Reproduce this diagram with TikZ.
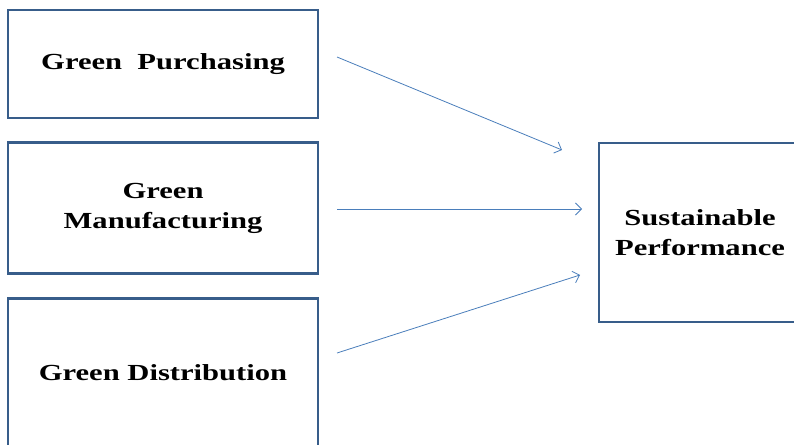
\documentclass[tikz,border=0pt]{standalone}
\usepackage{fontspec}
\setmainfont{Liberation Serif}[FakeStretch=1.33]
\usetikzlibrary{arrows.meta}
\usetikzlibrary{positioning}

\begin{document}
\begin{tikzpicture}[x=1pt,y=1pt]
		    \definecolor{boxline}{RGB}{56,93,138}
		    \definecolor{arrowcol}{RGB}{74,126,187}
		    \tikzset{gbox/.style={draw=boxline,line width=2.8pt,align=center,inner sep=0pt,
		        font=\fontsize{23}{30.5}\selectfont\bfseries},
		      link/.style={draw=arrowcol,line width=0.8pt,-{Straight Barb[length=6pt,width=12pt]}}}
		    \useasboundingbox (0,0) rectangle (794,444);
		    \clip (0,0) rectangle (794,444);
		    \node(purch) [gbox,minimum width=310pt,minimum height=108pt] at (163,380) {Green\ \ Purchasing};
		    \node(manuf) [gbox,minimum width=310pt,minimum height=131pt,below = 22pt of purch] {Green\\Manufacturing};
		    \node(distr) [gbox,minimum width=310pt,minimum height=148pt,below = 22pt of manuf] {Green Distribution};
		    \node(perf) [gbox,minimum width=202pt,minimum height=179pt] at (700,211.5) {Sustainable\\Performance};
		    
		    \coordinate (purchout) at (337,387);
		    \coordinate (manufout) at (337,235);
		    \coordinate (distrout) at (337,91);
		    \coordinate (perfin1) at (562,294);
		    \coordinate (perfin2) at (582,235);
		    \coordinate (perfin3) at (580,169);
		    
		    \draw[link] (purchout) -- (perfin1);
		    \draw[link] (manufout) -- (perfin2);
		    \draw[link] (distrout) -- (perfin3);
\end{tikzpicture}
\end{document}
